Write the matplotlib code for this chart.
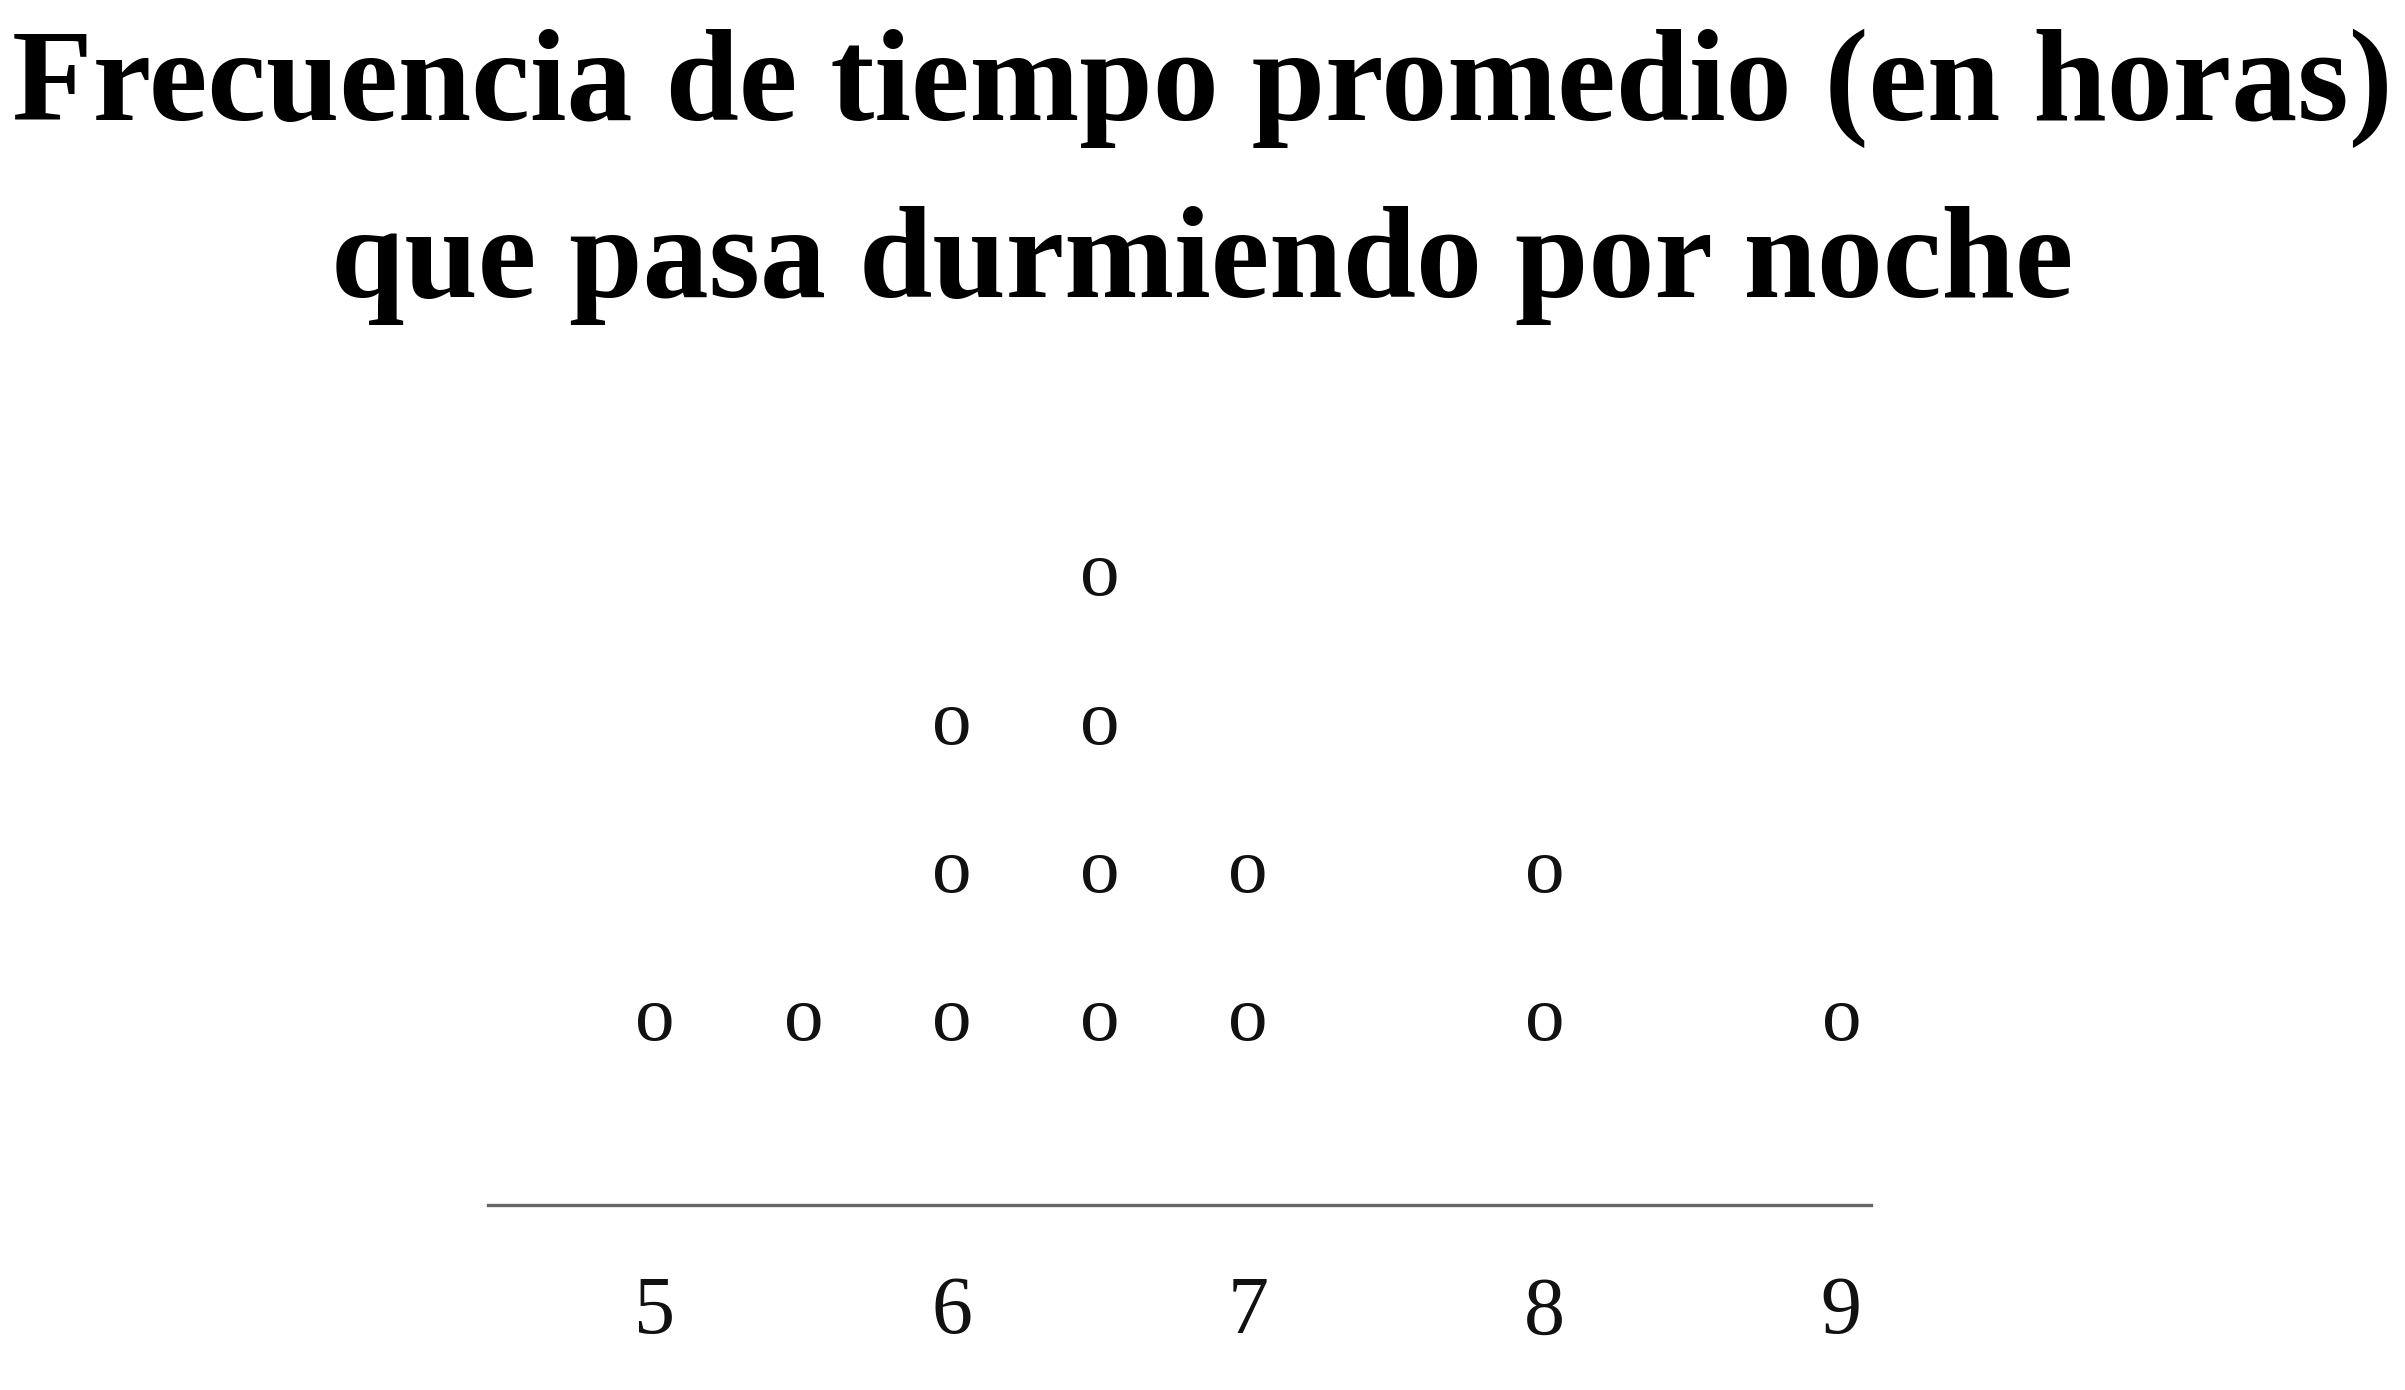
import matplotlib
matplotlib.use("Agg")
import matplotlib.pyplot as plt

# Data
hours = [5, 5.5, 6, 6.5, 7, 8, 9]
counts = [1, 1, 3, 4, 2, 2, 1]
tick_values = [5, 6, 7, 8, 9]
tick_labels = ["5", "6", "7", "8", "9"]
title_line1 = "Frecuencia de tiempo promedio (en horas)"
title_line2 = "que pasa durmiendo por noche"

W, H, DPI = 2405, 1390, 100
fig = plt.figure(figsize=(W / DPI, H / DPI), dpi=DPI)
fig.patch.set_facecolor("white")

serif = ["Liberation Serif", "DejaVu Serif"]

ax = fig.add_axes([488 / W, 185 / H, (1871 - 488) / W, (890 - 185) / H])
ax.set_xlim(4.437, 9.1)
ax.set_ylim(-0.297, 4.46)
for s in ["top", "left", "right"]:
    ax.spines[s].set_visible(False)
ax.spines["bottom"].set_color("#666666")
ax.spines["bottom"].set_linewidth(2.4)
ax.set_yticks([])
ax.set_xticks(tick_values)
ax.set_xticklabels(tick_labels, fontfamily=serif, fontsize=59, color="#111111")
ax.tick_params(axis="x", length=0, pad=51)

for x, c in zip(hours, counts):
    for level in range(1, c + 1):
        ax.text(x, level, "o", fontfamily=serif, fontsize=57, color="#111111",
                ha="center", va="center_baseline")

fig.text(0.5, 1 - 120 / H, title_line1, fontfamily=serif, fontweight="bold",
         fontsize=95, ha="center", va="baseline", color="black")
fig.text(0.5, 1 - 297 / H, title_line2, fontfamily=serif, fontweight="bold",
         fontsize=95, ha="center", va="baseline", color="black")

fig.savefig("out.png", dpi=DPI, facecolor="white")
